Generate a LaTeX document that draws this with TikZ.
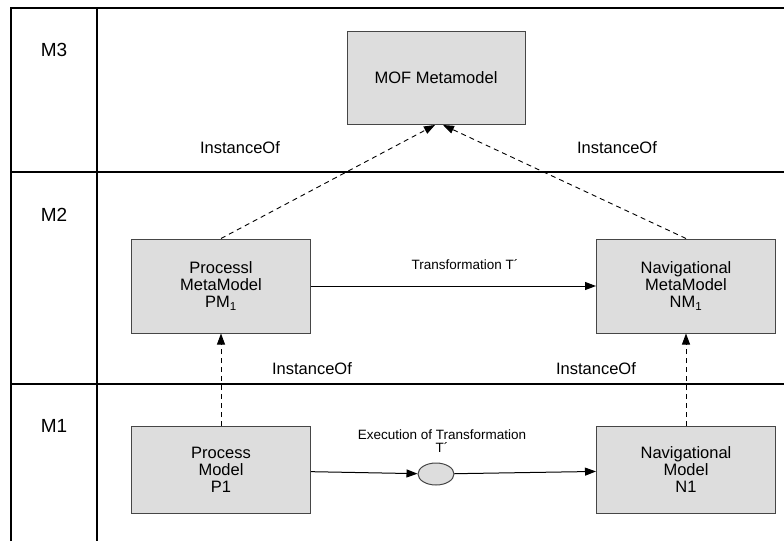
\documentclass[tikz,border=0pt]{standalone}
\usepackage{fontspec}
\setmainfont{Liberation Sans}
\usetikzlibrary{arrows.meta,shapes.geometric}

\definecolor{boxfill}{RGB}{221,221,221}
\definecolor{boxline}{RGB}{70,70,70}

\begin{document}
\begin{tikzpicture}[x=1pt,y=-1pt,
    modelbox/.style={draw=boxline,fill=boxfill,line width=1pt,minimum width=179pt,
      minimum height=94pt,align=center,inner sep=0pt,
      font=\fontsize{16.5}{17}\selectfont},
    levelname/.style={font=\fontsize{19}{20}\selectfont},
    relname/.style={font=\fontsize{16.5}{17}\selectfont},
    smallname/.style={font=\fontsize{13.5}{13}\selectfont,align=center},
    instof/.style={dashed,dash pattern=on 5pt off 4pt,line width=0.9pt,
      -{Triangle[length=11pt,width=8pt]}},
    trans/.style={line width=1pt,-{Triangle[length=11pt,width=8pt]}}]
  \useasboundingbox (0,0) rectangle (784,541);
  % frame of the three levels
  \draw[line width=1.2pt] (11,541) -- (11,8) -- (784,8);
  \draw[line width=1.1pt] (97,8) -- (97,541);
  \draw[line width=1.6pt] (11,172) -- (784,172);
  \draw[line width=1.3pt] (11,384) -- (784,384);
  \node[levelname] (m3) at (54,50) {M3};
  \node[levelname] (m2) at (54,215) {M2};
  \node[levelname] (m1) at (54,426) {M1};

  % models
  \node[modelbox,minimum width=178pt,minimum height=93pt] (mof) at (436,78) {MOF Metamodel};
  \node[modelbox] (pm) at (221,286) {Processl\\MetaModel\\PM\textsubscript{1}};
  \node[modelbox] (nm) at (686,286) {Navigational\\MetaModel\\NM\textsubscript{1}};
  \node[modelbox,minimum height=87pt] (p1) at (221,470) {Process\\Model\\P1};
  \node[modelbox,minimum height=87pt] (n1) at (686,470) {Navigational\\Model\\N1};
  \node[ellipse,draw=boxline,fill=boxfill,line width=1pt,minimum width=36pt,
    minimum height=22pt,inner sep=0pt] (exe) at (436,474) {};

  % relations
  \draw[instof] (pm.north) -- ([xshift=-1pt]mof.south);
  \draw[instof] (nm.north) -- ([xshift=7pt]mof.south);
  \draw[instof] (p1.north) -- (pm.south);
  \draw[instof] (n1.north) -- (nm.south);
  \draw[trans] (pm) -- (nm);
  \draw[trans] (p1) -- (exe);
  \draw[trans] (exe) -- (n1);

  \node[relname] (io1) at (240,148) {InstanceOf};
  \node[relname] (io2) at (617,148) {InstanceOf};
  \node[relname] (io3) at (312,369) {InstanceOf};
  \node[relname] (io4) at (596,369) {InstanceOf};
  \node[smallname] (tlab) at (465,265) {Transformation T´};
  \node[smallname] (elab) at (442,441) {Execution of Transformation\\T´};
\end{tikzpicture}
\end{document}
